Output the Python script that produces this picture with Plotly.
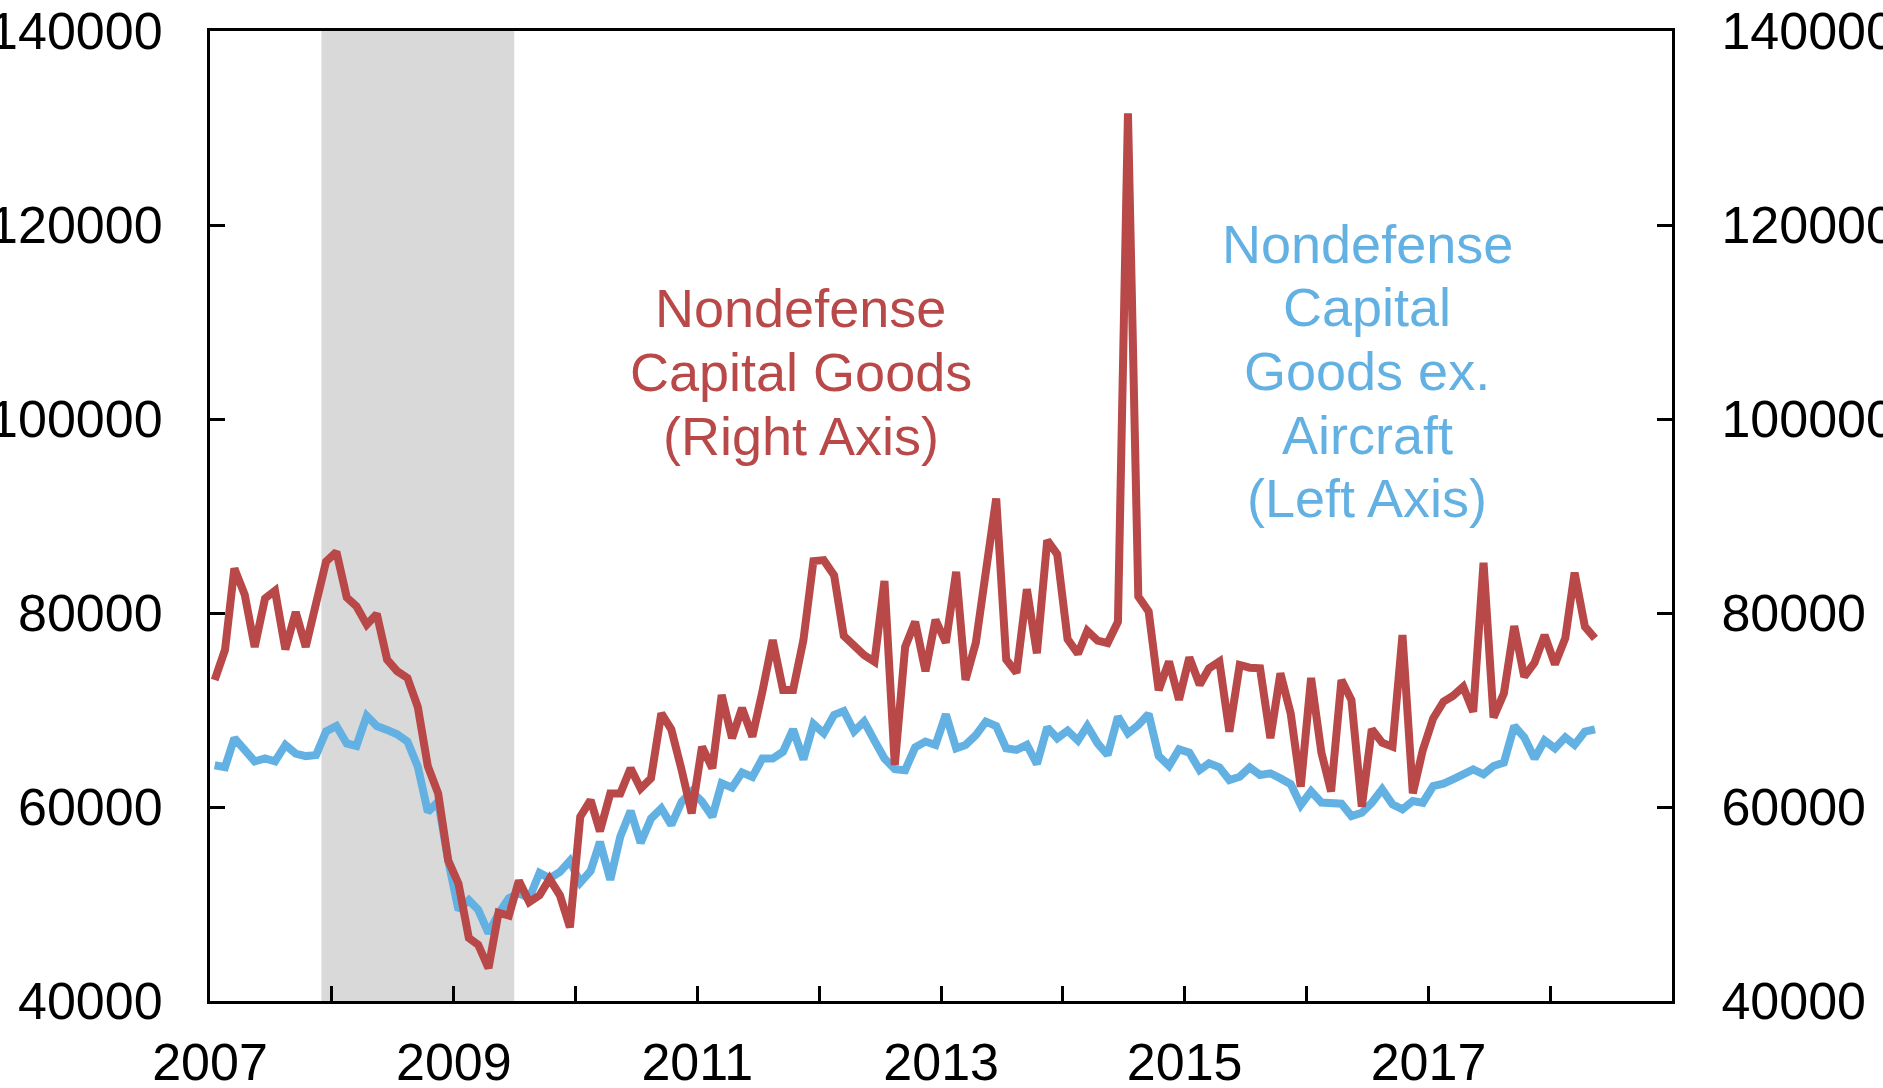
import pandas as pd
import plotly.graph_objects as go

# Monthly dates, Jan 2007 - May 2018 (plotted mid-month)
dates = [d.strftime("%Y-%m-15") for d in pd.date_range("2007-01-01", periods=137, freq="MS")]

# Nondefense capital goods (right axis)
capital_goods = [
    73100, 76200, 84600, 81900, 76500, 81500, 82300, 76250, 80100, 76500, 81000, 85300,
    86300, 81600, 80700, 78800, 79900, 75200, 74000, 73300, 70300, 64200, 61400, 54500,
    52100, 46500, 45800, 43400, 49100, 48800, 52400, 50200, 50900, 52600, 50900, 47600,
    59000, 60700, 57500, 61400, 61400, 64000, 61900, 62950, 69650, 68000, 63800, 59350,
    66200, 64000, 71550, 67100, 70200, 67250, 71900, 77200, 72050, 72050, 77200, 85350,
    85450, 83900, 77650, 76500, 75650, 74980, 83300, 64330, 76500, 79100, 74000, 79300,
    76950, 84250, 73100, 76950, 84600, 91800, 75200, 73850, 82450, 75850, 87500, 86050,
    77300, 75800, 78150, 77150, 76900, 79100, 131500, 81700, 80150, 72050, 75000, 71050,
    75430, 72600, 74300, 75000, 67770, 74640, 74360, 74300, 67100, 73780, 69600, 62100,
    73300, 65600, 61600, 73090, 71030, 60030, 68010, 66630, 66220, 77730, 61410, 65880,
    69140, 70860, 71440, 72400, 69830, 85190, 69240, 71710, 78660, 73430, 74880, 77730,
    74710, 77390, 84160, 78590, 77390,
]

# Nondefense capital goods ex. aircraft (left axis)
capital_goods_ex_aircraft = [
    64300, 64100, 67100, 65950, 64700, 65000, 64700, 66400, 65500, 65250, 65350, 67800,
    68350, 66550, 66300, 69400, 68350, 67950, 67500, 66750, 64150, 59500, 60550, 54500,
    49400, 50400, 49400, 47000, 49000, 50600, 51100, 50600, 53200, 52650, 53300, 54450,
    52200, 53400, 56400, 52500, 56950, 59600, 56300, 58800, 59850, 58150, 60550, 61600,
    60550, 59000, 62450, 62000, 63550, 63100, 65000, 65000, 65700, 68000, 64900, 68550,
    67600, 69500, 69900, 67800, 68800, 66850, 65000, 63900, 63800, 66150, 66750, 66400,
    69550, 66050, 66400, 67420, 68800, 68350, 66050, 65880, 66400, 64430, 68210, 67080,
    67870, 66850, 68350, 66560, 65360, 69310, 67600, 68450, 69590, 65260, 64230, 65950,
    65600, 63810, 64500, 64090, 62780, 63120, 64090, 63300, 63470, 62950, 62350, 60200,
    61630, 60460, 60380, 60340, 59070, 59410, 60440, 61820, 60280, 59760, 60620, 60440,
    62160, 62400, 62850, 63430, 63880, 63370, 64230, 64570, 68350, 67180, 65000, 66850,
    66050, 67180, 66400, 67770, 68010,
]

year_ticks = [f"{y}-01-01" for y in range(2007, 2020)]
year_tick_labels = [str(y) if (y - 2007) % 2 == 0 and y < 2019 else "" for y in range(2007, 2020)]
y_ticks = [40000, 60000, 80000, 100000, 120000, 140000]

recession_start = "2007-12-01"
recession_end = "2009-07-01"

red_label_lines = ["Nondefense", "Capital Goods", "(Right Axis)"]
blue_label_lines = ["Nondefense", "Capital", "Goods ex.", "Aircraft", "(Left Axis)"]

RED = "#B94848"
BLUE = "#63B1E2"
FONT = "Liberation Sans, Arial, sans-serif"

fig = go.Figure()

fig.add_trace(go.Scatter(x=dates, y=capital_goods_ex_aircraft, mode="lines",
                         line=dict(color=BLUE, width=8), yaxis="y", showlegend=False))
fig.add_trace(go.Scatter(x=dates, y=capital_goods, mode="lines",
                         line=dict(color=RED, width=8), yaxis="y2", showlegend=False))

fig.add_shape(type="rect", xref="x", yref="paper", x0=recession_start, x1=recession_end,
              y0=0, y1=1, fillcolor="#D9D9D9", line=dict(width=0), layer="below")

# text block positions (paper coords), one annotation per line
line_step = 63.7 / 970.0
red_center = (0.4042, 1 - (372 - 31) / 970.0)
blue_center = (0.7914, 1 - (371 - 31) / 970.0)

for lines, (cx, cy), color in [(red_label_lines, red_center, RED),
                               (blue_label_lines, blue_center, BLUE)]:
    n = len(lines)
    for k, txt in enumerate(lines):
        fig.add_annotation(x=cx, y=cy + ((n - 1) / 2 - k) * line_step,
                           xref="paper", yref="paper", text=txt, showarrow=False,
                           xanchor="center", yanchor="middle", align="center",
                           font=dict(family=FONT, size=54, color=color))

axis_font = dict(family=FONT, size=52, color="black")

common = dict(ticks="inside", ticklen=15, tickwidth=2.5, tickcolor="black",
              showline=True, linewidth=3, linecolor="black",
              showgrid=False, zeroline=False, tickfont=axis_font, automargin=False)

fig.update_layout(
    width=1883, height=1088,
    margin=dict(l=210, r=211, t=31, b=87),
    paper_bgcolor="white", plot_bgcolor="white",
    font=dict(family=FONT, color="black"),
    xaxis=dict(type="date", range=["2007-01-01", "2019-01-01"],
               tickvals=year_ticks, ticktext=year_tick_labels, mirror=True,
               ticklabelstandoff=14, **common),
    yaxis=dict(range=[40000, 140000], tickvals=y_ticks, tickformat="d",
               ticklabelstandoff=34, **common),
    yaxis2=dict(range=[40000, 140000], tickvals=y_ticks, tickformat="d",
                overlaying="y", side="right", ticklabelstandoff=36, **common),
)

fig.write_html("out.html", config={"displayModeBar": False},
               post_script="document.body.style.margin='0';document.body.style.overflow='hidden';")
